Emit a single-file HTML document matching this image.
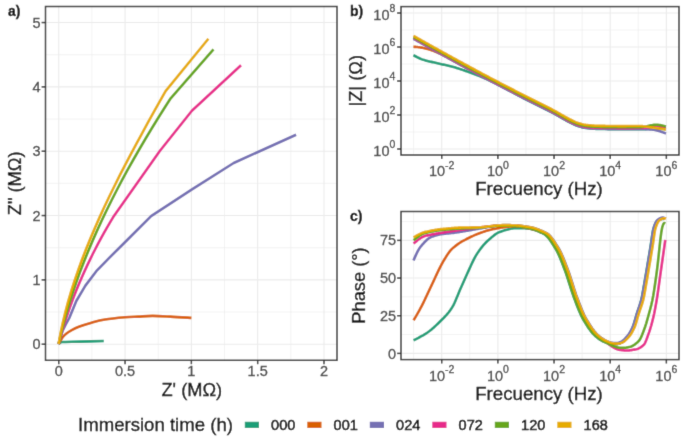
<!DOCTYPE html>
<html><head><meta charset="utf-8"><style>
html,body{margin:0;padding:0;background:#fff;}
body{width:685px;height:441px;overflow:hidden;}
svg{display:block;}
text{font-family:"Liberation Sans",sans-serif;}
.tk{stroke:#444444;stroke-width:0.3px;}
.tt{stroke:#000;stroke-width:0.3px;}
.tl{stroke:#000;stroke-width:0.5px;}
</style></head><body>
<svg width="685" height="441" viewBox="0 0 685 441">
<defs><filter id="bl" x="0" y="0" width="685" height="441" filterUnits="userSpaceOnUse"><feConvolveMatrix order="3" kernelMatrix="0.01134 0.08382 0.01134 0.08382 0.61935 0.08382 0.01134 0.08382 0.01134" divisor="1" edgeMode="duplicate" preserveAlpha="true"/></filter></defs>
<rect width="685" height="441" fill="#fff"/>
<g filter="url(#bl)">
<rect width="685" height="441" fill="#fff"/>
<line x1="91.91" y1="6.5" x2="91.91" y2="360.3" stroke="#EBEBEB" stroke-width="0.6"/>
<line x1="158.22" y1="6.5" x2="158.22" y2="360.3" stroke="#EBEBEB" stroke-width="0.6"/>
<line x1="224.53" y1="6.5" x2="224.53" y2="360.3" stroke="#EBEBEB" stroke-width="0.6"/>
<line x1="290.84" y1="6.5" x2="290.84" y2="360.3" stroke="#EBEBEB" stroke-width="0.6"/>
<line x1="45.5" y1="312.03" x2="337" y2="312.03" stroke="#EBEBEB" stroke-width="0.6"/>
<line x1="45.5" y1="247.70" x2="337" y2="247.70" stroke="#EBEBEB" stroke-width="0.6"/>
<line x1="45.5" y1="183.38" x2="337" y2="183.38" stroke="#EBEBEB" stroke-width="0.6"/>
<line x1="45.5" y1="119.04" x2="337" y2="119.04" stroke="#EBEBEB" stroke-width="0.6"/>
<line x1="45.5" y1="54.71" x2="337" y2="54.71" stroke="#EBEBEB" stroke-width="0.6"/>
<line x1="58.75" y1="6.5" x2="58.75" y2="360.3" stroke="#EBEBEB" stroke-width="1.1"/>
<line x1="125.06" y1="6.5" x2="125.06" y2="360.3" stroke="#EBEBEB" stroke-width="1.1"/>
<line x1="191.37" y1="6.5" x2="191.37" y2="360.3" stroke="#EBEBEB" stroke-width="1.1"/>
<line x1="257.68" y1="6.5" x2="257.68" y2="360.3" stroke="#EBEBEB" stroke-width="1.1"/>
<line x1="323.99" y1="6.5" x2="323.99" y2="360.3" stroke="#EBEBEB" stroke-width="1.1"/>
<line x1="45.5" y1="344.20" x2="337" y2="344.20" stroke="#EBEBEB" stroke-width="1.1"/>
<line x1="45.5" y1="279.87" x2="337" y2="279.87" stroke="#EBEBEB" stroke-width="1.1"/>
<line x1="45.5" y1="215.54" x2="337" y2="215.54" stroke="#EBEBEB" stroke-width="1.1"/>
<line x1="45.5" y1="151.21" x2="337" y2="151.21" stroke="#EBEBEB" stroke-width="1.1"/>
<line x1="45.5" y1="86.88" x2="337" y2="86.88" stroke="#EBEBEB" stroke-width="1.1"/>
<line x1="45.5" y1="22.55" x2="337" y2="22.55" stroke="#EBEBEB" stroke-width="1.1"/>
<line x1="413.64" y1="6.6" x2="413.64" y2="155" stroke="#EBEBEB" stroke-width="0.6"/>
<line x1="469.80" y1="6.6" x2="469.80" y2="155" stroke="#EBEBEB" stroke-width="0.6"/>
<line x1="525.96" y1="6.6" x2="525.96" y2="155" stroke="#EBEBEB" stroke-width="0.6"/>
<line x1="582.12" y1="6.6" x2="582.12" y2="155" stroke="#EBEBEB" stroke-width="0.6"/>
<line x1="638.28" y1="6.6" x2="638.28" y2="155" stroke="#EBEBEB" stroke-width="0.6"/>
<line x1="401" y1="132.00" x2="679" y2="132.00" stroke="#EBEBEB" stroke-width="0.6"/>
<line x1="401" y1="98.00" x2="679" y2="98.00" stroke="#EBEBEB" stroke-width="0.6"/>
<line x1="401" y1="64.00" x2="679" y2="64.00" stroke="#EBEBEB" stroke-width="0.6"/>
<line x1="401" y1="30.00" x2="679" y2="30.00" stroke="#EBEBEB" stroke-width="0.6"/>
<line x1="441.72" y1="6.6" x2="441.72" y2="155" stroke="#EBEBEB" stroke-width="1.1"/>
<line x1="497.88" y1="6.6" x2="497.88" y2="155" stroke="#EBEBEB" stroke-width="1.1"/>
<line x1="554.04" y1="6.6" x2="554.04" y2="155" stroke="#EBEBEB" stroke-width="1.1"/>
<line x1="610.20" y1="6.6" x2="610.20" y2="155" stroke="#EBEBEB" stroke-width="1.1"/>
<line x1="666.36" y1="6.6" x2="666.36" y2="155" stroke="#EBEBEB" stroke-width="1.1"/>
<line x1="401" y1="149.00" x2="679" y2="149.00" stroke="#EBEBEB" stroke-width="1.1"/>
<line x1="401" y1="115.00" x2="679" y2="115.00" stroke="#EBEBEB" stroke-width="1.1"/>
<line x1="401" y1="81.00" x2="679" y2="81.00" stroke="#EBEBEB" stroke-width="1.1"/>
<line x1="401" y1="47.00" x2="679" y2="47.00" stroke="#EBEBEB" stroke-width="1.1"/>
<line x1="401" y1="13.00" x2="679" y2="13.00" stroke="#EBEBEB" stroke-width="1.1"/>
<line x1="413.64" y1="211.5" x2="413.64" y2="359.6" stroke="#EBEBEB" stroke-width="0.6"/>
<line x1="469.80" y1="211.5" x2="469.80" y2="359.6" stroke="#EBEBEB" stroke-width="0.6"/>
<line x1="525.96" y1="211.5" x2="525.96" y2="359.6" stroke="#EBEBEB" stroke-width="0.6"/>
<line x1="582.12" y1="211.5" x2="582.12" y2="359.6" stroke="#EBEBEB" stroke-width="0.6"/>
<line x1="638.28" y1="211.5" x2="638.28" y2="359.6" stroke="#EBEBEB" stroke-width="0.6"/>
<line x1="401" y1="334.56" x2="679" y2="334.56" stroke="#EBEBEB" stroke-width="0.6"/>
<line x1="401" y1="296.89" x2="679" y2="296.89" stroke="#EBEBEB" stroke-width="0.6"/>
<line x1="401" y1="259.21" x2="679" y2="259.21" stroke="#EBEBEB" stroke-width="0.6"/>
<line x1="401" y1="221.54" x2="679" y2="221.54" stroke="#EBEBEB" stroke-width="0.6"/>
<line x1="441.72" y1="211.5" x2="441.72" y2="359.6" stroke="#EBEBEB" stroke-width="1.1"/>
<line x1="497.88" y1="211.5" x2="497.88" y2="359.6" stroke="#EBEBEB" stroke-width="1.1"/>
<line x1="554.04" y1="211.5" x2="554.04" y2="359.6" stroke="#EBEBEB" stroke-width="1.1"/>
<line x1="610.20" y1="211.5" x2="610.20" y2="359.6" stroke="#EBEBEB" stroke-width="1.1"/>
<line x1="666.36" y1="211.5" x2="666.36" y2="359.6" stroke="#EBEBEB" stroke-width="1.1"/>
<line x1="401" y1="353.40" x2="679" y2="353.40" stroke="#EBEBEB" stroke-width="1.1"/>
<line x1="401" y1="315.72" x2="679" y2="315.72" stroke="#EBEBEB" stroke-width="1.1"/>
<line x1="401" y1="278.05" x2="679" y2="278.05" stroke="#EBEBEB" stroke-width="1.1"/>
<line x1="401" y1="240.38" x2="679" y2="240.38" stroke="#EBEBEB" stroke-width="1.1"/>
<g>
<path d="M58.60,344.10 C58.92,343.85 59.92,342.95 60.50,342.60 C61.08,342.25 58.85,342.17 62.10,342.00 C65.35,341.83 73.05,341.77 80.00,341.60 C86.95,341.43 99.83,341.10 103.80,341.00" fill="none" stroke="#1B9E77" stroke-width="2.6" stroke-linejoin="round" stroke-linecap="butt"/>
<path d="M58.60,344.10 C58.92,343.52 59.78,341.78 60.50,340.60 C61.22,339.42 61.90,338.18 62.90,337.00 C63.90,335.82 65.17,334.57 66.50,333.50 C67.83,332.43 68.85,331.72 70.90,330.60 C72.95,329.48 75.37,328.12 78.80,326.80 C82.23,325.48 87.13,323.92 91.50,322.70 C95.87,321.48 99.42,320.40 105.00,319.50 C110.58,318.60 119.47,317.78 125.00,317.30 C130.53,316.82 133.60,316.83 138.20,316.60 C142.80,316.37 147.25,315.90 152.60,315.90 C157.95,315.90 163.83,316.27 170.30,316.60 C176.77,316.93 187.88,317.68 191.40,317.90" fill="none" stroke="#D95F02" stroke-width="2.6" stroke-linejoin="round" stroke-linecap="butt"/>
<path d="M58.60,344.10 L60.30,338.00 L62.50,331.00 L65.50,325.00 L69.30,318.00 L76.30,301.00 L85.40,285.60 L96.30,271.20 L109.00,258.10 L127.20,240.00 L151.10,216.20 L192.00,189.30 L233.70,163.00 L296.10,134.70" fill="none" stroke="#7570B3" stroke-width="2.6" stroke-linejoin="round" stroke-linecap="butt"/>
<path d="M58.60,344.10 L59.99,338.82 L61.46,333.53 L63.00,328.25 L64.62,322.97 L66.32,317.68 L68.09,312.40 L69.94,307.12 L71.87,301.83 L73.87,296.55 L75.95,291.27 L78.10,285.98 L80.33,280.70 L82.64,275.42 L85.02,270.13 L87.48,264.85 L90.02,259.57 L92.63,254.28 L95.32,249.00 L98.09,243.72 L100.93,238.43 L103.84,233.15 L106.84,227.87 L109.91,222.58 L113.05,217.30 L159.80,151.00 L191.90,110.80 L241.00,65.20" fill="none" stroke="#E7298A" stroke-width="2.6" stroke-linejoin="round" stroke-linecap="butt"/>
<path d="M58.60,344.10 L60.93,333.86 L63.51,323.62 L66.32,313.38 L69.37,303.13 L72.64,292.89 L76.13,282.65 L79.83,272.41 L83.75,262.17 L87.87,251.93 L92.19,241.68 L96.70,231.44 L101.40,221.20 L106.29,210.96 L111.36,200.72 L116.60,190.48 L122.01,180.23 L127.58,169.99 L133.30,159.75 L139.19,149.51 L145.21,139.27 L151.38,129.03 L157.69,118.78 L164.13,108.54 L170.69,98.30 L213.50,49.30" fill="none" stroke="#66A61E" stroke-width="2.6" stroke-linejoin="round" stroke-linecap="butt"/>
<path d="M58.60,344.10 L60.51,333.56 L62.73,323.02 L65.25,312.48 L68.06,301.93 L71.15,291.39 L74.50,280.85 L78.11,270.31 L81.95,259.77 L86.01,249.23 L90.29,238.68 L94.77,228.14 L99.44,217.60 L104.29,207.06 L109.30,196.52 L114.46,185.97 L119.75,175.43 L125.17,164.89 L130.71,154.35 L136.34,143.81 L142.07,133.27 L147.86,122.72 L153.72,112.18 L159.63,101.64 L165.58,91.10 L208.40,38.70" fill="none" stroke="#E6AB02" stroke-width="2.6" stroke-linejoin="round" stroke-linecap="butt"/>
</g>
<path d="M413.40,55.20 L414.40,55.73 L415.40,56.26 L416.41,56.78 L417.41,57.29 L418.41,57.78 L419.41,58.25 L420.42,58.69 L421.42,59.11 L422.42,59.49 L423.42,59.82 L424.43,60.12 L425.43,60.40 L426.43,60.67 L427.43,60.93 L428.44,61.18 L429.44,61.42 L430.44,61.66 L431.44,61.89 L432.45,62.11 L433.45,62.34 L434.45,62.56 L435.45,62.79 L436.45,63.01 L437.46,63.24 L438.46,63.47 L439.46,63.71 L440.46,63.94 L441.47,64.17 L442.47,64.40 L443.47,64.63 L444.47,64.85 L445.48,65.08 L446.48,65.31 L447.48,65.54 L448.48,65.77 L449.49,66.01 L450.49,66.26 L451.49,66.51 L452.49,66.77 L453.50,67.04 L454.50,67.32 L455.50,67.62 L456.50,67.92 L457.50,68.23 L458.51,68.55 L459.51,68.87 L460.51,69.20 L461.51,69.53 L462.52,69.87 L463.52,70.21 L464.52,70.55 L465.52,70.90 L466.53,71.27 L467.53,71.63 L468.53,72.01 L469.53,72.38 L470.54,72.76 L471.54,73.14 L472.54,73.51 L473.54,73.89 L474.55,74.26 L475.55,74.63 L476.55,75.01 L477.55,75.38 L478.55,75.76 L479.56,76.15 L480.56,76.54 L481.56,76.94 L482.56,77.36 L483.57,77.78 L484.57,78.21 L485.57,78.66 L486.57,79.11 L487.58,79.57 L488.58,80.03 L489.58,80.51 L490.58,80.98 L491.59,81.47 L492.59,81.95 L493.59,82.45 L494.59,82.95 L495.60,83.45 L496.60,83.96 L497.60,84.47 L498.60,84.98 L499.60,85.50 L500.61,86.02 L501.61,86.54 L502.61,87.07 L503.61,87.60 L504.62,88.13 L505.62,88.66 L506.62,89.20 L507.62,89.73 L508.63,90.27 L509.63,90.81 L510.63,91.34 L511.63,91.88 L512.64,92.42 L513.64,92.96 L514.64,93.49 L515.64,94.03 L516.65,94.56 L517.65,95.10 L518.65,95.63 L519.65,96.16 L520.65,96.69 L521.66,97.21 L522.66,97.73 L523.66,98.25 L524.66,98.77 L525.67,99.28 L526.67,99.79 L527.67,100.30 L528.67,100.80 L529.68,101.30 L530.68,101.80 L531.68,102.30 L532.68,102.80 L533.69,103.29 L534.69,103.79 L535.69,104.28 L536.69,104.78 L537.70,105.27 L538.70,105.77 L539.70,106.26 L540.70,106.76 L541.70,107.26 L542.71,107.75 L543.71,108.25 L544.71,108.76 L545.71,109.26 L546.72,109.77 L547.72,110.28 L548.72,110.79 L549.72,111.31 L550.73,111.83 L551.73,112.35 L552.73,112.88 L553.73,113.41 L554.74,113.95 L555.74,114.51 L556.74,115.08 L557.74,115.65 L558.75,116.24 L559.75,116.82 L560.75,117.39 L561.75,117.96 L562.75,118.52 L563.76,119.09 L564.76,119.66 L565.76,120.23 L566.76,120.79 L567.77,121.34 L568.77,121.88 L569.77,122.39 L570.77,122.88 L571.78,123.37 L572.78,123.86 L573.78,124.32 L574.78,124.77 L575.79,125.19 L576.79,125.58 L577.79,125.93 L578.79,126.25 L579.80,126.57 L580.80,126.87 L581.80,127.16 L582.80,127.42 L583.80,127.65 L584.81,127.84 L585.81,127.98 L586.81,128.08 L587.81,128.19 L588.82,128.29 L589.82,128.39 L590.82,128.48 L591.82,128.57 L592.83,128.65 L593.83,128.72 L594.83,128.78 L595.83,128.83 L596.84,128.87 L597.84,128.90 L598.84,128.92 L599.84,128.93 L600.85,128.95 L601.85,128.97 L602.85,128.99 L603.85,129.01 L604.85,129.03 L605.86,129.05 L606.86,129.07 L607.86,129.09 L608.86,129.11 L609.87,129.12 L610.87,129.14 L611.87,129.15 L612.87,129.17 L613.88,129.18 L614.88,129.19 L615.88,129.19 L616.88,129.20 L617.89,129.20 L618.89,129.20 L619.89,129.20 L620.89,129.20 L621.90,129.19 L622.90,129.19 L623.90,129.18 L624.90,129.18 L625.90,129.17 L626.91,129.17 L627.91,129.16 L628.91,129.16 L629.91,129.15 L630.92,129.14 L631.92,129.14 L632.92,129.13 L633.92,129.13 L634.93,129.12 L635.93,129.12 L636.93,129.11 L637.93,129.11 L638.94,129.10 L639.94,129.10 L640.94,129.10 L641.94,129.09 L642.95,129.09 L643.95,129.08 L644.95,129.08 L645.95,129.08 L646.95,129.07 L647.96,129.07 L648.96,129.06 L649.96,129.06 L650.96,129.06 L651.97,129.05 L652.97,129.05 L653.97,129.04 L654.97,129.04 L655.98,129.04 L656.98,129.03 L657.98,129.03 L658.98,129.02 L659.99,129.02 L660.99,129.02 L661.99,129.01 L662.99,129.01 L664.00,129.01 L665.00,129.00 L666.00,129.00" fill="none" stroke="#1B9E77" stroke-width="2.6" stroke-linejoin="round" stroke-linecap="butt"/>
<path d="M413.40,46.80 L414.40,46.83 L415.40,46.89 L416.41,46.97 L417.41,47.07 L418.41,47.19 L419.41,47.33 L420.42,47.48 L421.42,47.65 L422.42,47.83 L423.42,48.01 L424.43,48.21 L425.43,48.41 L426.43,48.62 L427.43,48.87 L428.44,49.15 L429.44,49.46 L430.44,49.80 L431.44,50.15 L432.45,50.52 L433.45,50.91 L434.45,51.31 L435.45,51.72 L436.45,52.13 L437.46,52.55 L438.46,52.97 L439.46,53.40 L440.46,53.84 L441.47,54.32 L442.47,54.82 L443.47,55.33 L444.47,55.86 L445.48,56.39 L446.48,56.92 L447.48,57.46 L448.48,58.00 L449.49,58.55 L450.49,59.11 L451.49,59.68 L452.49,60.25 L453.50,60.83 L454.50,61.40 L455.50,61.98 L456.50,62.55 L457.50,63.12 L458.51,63.68 L459.51,64.23 L460.51,64.78 L461.51,65.32 L462.52,65.86 L463.52,66.39 L464.52,66.92 L465.52,67.46 L466.53,67.99 L467.53,68.51 L468.53,69.04 L469.53,69.57 L470.54,70.09 L471.54,70.61 L472.54,71.14 L473.54,71.66 L474.55,72.18 L475.55,72.70 L476.55,73.22 L477.55,73.74 L478.55,74.26 L479.56,74.77 L480.56,75.29 L481.56,75.81 L482.56,76.33 L483.57,76.85 L484.57,77.38 L485.57,77.90 L486.57,78.42 L487.58,78.94 L488.58,79.46 L489.58,79.99 L490.58,80.51 L491.59,81.03 L492.59,81.55 L493.59,82.08 L494.59,82.60 L495.60,83.12 L496.60,83.64 L497.60,84.17 L498.60,84.69 L499.60,85.21 L500.61,85.73 L501.61,86.25 L502.61,86.77 L503.61,87.30 L504.62,87.82 L505.62,88.34 L506.62,88.86 L507.62,89.38 L508.63,89.90 L509.63,90.42 L510.63,90.94 L511.63,91.46 L512.64,91.97 L513.64,92.49 L514.64,93.01 L515.64,93.53 L516.65,94.05 L517.65,94.56 L518.65,95.08 L519.65,95.59 L520.65,96.11 L521.66,96.63 L522.66,97.14 L523.66,97.65 L524.66,98.17 L525.67,98.68 L526.67,99.19 L527.67,99.70 L528.67,100.21 L529.68,100.71 L530.68,101.21 L531.68,101.71 L532.68,102.21 L533.69,102.70 L534.69,103.20 L535.69,103.69 L536.69,104.19 L537.70,104.68 L538.70,105.18 L539.70,105.67 L540.70,106.17 L541.70,106.66 L542.71,107.16 L543.71,107.66 L544.71,108.16 L545.71,108.67 L546.72,109.17 L547.72,109.68 L548.72,110.19 L549.72,110.71 L550.73,111.23 L551.73,111.75 L552.73,112.28 L553.73,112.81 L554.74,113.35 L555.74,113.91 L556.74,114.48 L557.74,115.06 L558.75,115.64 L559.75,116.22 L560.75,116.79 L561.75,117.36 L562.75,117.92 L563.76,118.49 L564.76,119.06 L565.76,119.63 L566.76,120.19 L567.77,120.74 L568.77,121.28 L569.77,121.79 L570.77,122.28 L571.78,122.77 L572.78,123.26 L573.78,123.72 L574.78,124.17 L575.79,124.59 L576.79,124.98 L577.79,125.33 L578.79,125.65 L579.80,125.97 L580.80,126.27 L581.80,126.56 L582.80,126.82 L583.80,127.05 L584.81,127.24 L585.81,127.38 L586.81,127.48 L587.81,127.59 L588.82,127.69 L589.82,127.79 L590.82,127.88 L591.82,127.97 L592.83,128.05 L593.83,128.12 L594.83,128.18 L595.83,128.23 L596.84,128.27 L597.84,128.30 L598.84,128.32 L599.84,128.33 L600.85,128.35 L601.85,128.37 L602.85,128.39 L603.85,128.41 L604.85,128.43 L605.86,128.45 L606.86,128.47 L607.86,128.49 L608.86,128.51 L609.87,128.52 L610.87,128.54 L611.87,128.55 L612.87,128.57 L613.88,128.58 L614.88,128.59 L615.88,128.59 L616.88,128.60 L617.89,128.60 L618.89,128.60 L619.89,128.60 L620.89,128.60 L621.90,128.59 L622.90,128.59 L623.90,128.58 L624.90,128.58 L625.90,128.57 L626.91,128.56 L627.91,128.56 L628.91,128.55 L629.91,128.54 L630.92,128.54 L631.92,128.53 L632.92,128.53 L633.92,128.52 L634.93,128.52 L635.93,128.51 L636.93,128.51 L637.93,128.50 L638.94,128.50 L639.94,128.50 L640.94,128.50 L641.94,128.50 L642.95,128.50 L643.95,128.50 L644.95,128.49 L645.95,128.49 L646.95,128.49 L647.96,128.49 L648.96,128.49 L649.96,128.49 L650.96,128.49 L651.97,128.49 L652.97,128.49 L653.97,128.49 L654.97,128.49 L655.98,128.49 L656.98,128.49 L657.98,128.49 L658.98,128.49 L659.99,128.49 L660.99,128.49 L661.99,128.49 L662.99,128.50 L664.00,128.50 L665.00,128.50 L666.00,128.50" fill="none" stroke="#D95F02" stroke-width="2.6" stroke-linejoin="round" stroke-linecap="butt"/>
<path d="M413.40,38.80 L414.40,39.36 L415.40,39.92 L416.41,40.49 L417.41,41.05 L418.41,41.61 L419.41,42.17 L420.42,42.73 L421.42,43.29 L422.42,43.85 L423.42,44.41 L424.43,44.97 L425.43,45.53 L426.43,46.09 L427.43,46.64 L428.44,47.20 L429.44,47.76 L430.44,48.31 L431.44,48.87 L432.45,49.43 L433.45,49.98 L434.45,50.54 L435.45,51.09 L436.45,51.65 L437.46,52.20 L438.46,52.75 L439.46,53.31 L440.46,53.86 L441.47,54.41 L442.47,54.97 L443.47,55.52 L444.47,56.07 L445.48,56.62 L446.48,57.17 L447.48,57.72 L448.48,58.27 L449.49,58.82 L450.49,59.37 L451.49,59.92 L452.49,60.46 L453.50,61.01 L454.50,61.56 L455.50,62.11 L456.50,62.65 L457.50,63.20 L458.51,63.74 L459.51,64.29 L460.51,64.83 L461.51,65.38 L462.52,65.92 L463.52,66.46 L464.52,67.01 L465.52,67.55 L466.53,68.09 L467.53,68.63 L468.53,69.17 L469.53,69.72 L470.54,70.26 L471.54,70.80 L472.54,71.33 L473.54,71.87 L474.55,72.41 L475.55,72.95 L476.55,73.49 L477.55,74.02 L478.55,74.56 L479.56,75.10 L480.56,75.63 L481.56,76.17 L482.56,76.70 L483.57,77.24 L484.57,77.77 L485.57,78.30 L486.57,78.84 L487.58,79.37 L488.58,79.90 L489.58,80.43 L490.58,80.96 L491.59,81.48 L492.59,82.01 L493.59,82.54 L494.59,83.06 L495.60,83.59 L496.60,84.11 L497.60,84.63 L498.60,85.16 L499.60,85.68 L500.61,86.20 L501.61,86.72 L502.61,87.24 L503.61,87.76 L504.62,88.28 L505.62,88.79 L506.62,89.31 L507.62,89.83 L508.63,90.35 L509.63,90.86 L510.63,91.38 L511.63,91.89 L512.64,92.41 L513.64,92.92 L514.64,93.44 L515.64,93.95 L516.65,94.46 L517.65,94.98 L518.65,95.49 L519.65,96.00 L520.65,96.52 L521.66,97.03 L522.66,97.54 L523.66,98.06 L524.66,98.57 L525.67,99.08 L526.67,99.59 L527.67,100.10 L528.67,100.61 L529.68,101.11 L530.68,101.61 L531.68,102.11 L532.68,102.61 L533.69,103.10 L534.69,103.60 L535.69,104.09 L536.69,104.59 L537.70,105.08 L538.70,105.58 L539.70,106.07 L540.70,106.57 L541.70,107.06 L542.71,107.56 L543.71,108.06 L544.71,108.56 L545.71,109.07 L546.72,109.57 L547.72,110.08 L548.72,110.59 L549.72,111.11 L550.73,111.63 L551.73,112.15 L552.73,112.68 L553.73,113.21 L554.74,113.75 L555.74,114.31 L556.74,114.88 L557.74,115.46 L558.75,116.04 L559.75,116.62 L560.75,117.19 L561.75,117.76 L562.75,118.32 L563.76,118.89 L564.76,119.46 L565.76,120.03 L566.76,120.59 L567.77,121.14 L568.77,121.68 L569.77,122.19 L570.77,122.68 L571.78,123.17 L572.78,123.66 L573.78,124.12 L574.78,124.57 L575.79,124.99 L576.79,125.38 L577.79,125.73 L578.79,126.05 L579.80,126.37 L580.80,126.67 L581.80,126.96 L582.80,127.22 L583.80,127.45 L584.81,127.64 L585.81,127.78 L586.81,127.88 L587.81,127.99 L588.82,128.09 L589.82,128.19 L590.82,128.28 L591.82,128.37 L592.83,128.45 L593.83,128.52 L594.83,128.58 L595.83,128.63 L596.84,128.67 L597.84,128.70 L598.84,128.71 L599.84,128.73 L600.85,128.75 L601.85,128.77 L602.85,128.79 L603.85,128.80 L604.85,128.82 L605.86,128.84 L606.86,128.86 L607.86,128.87 L608.86,128.89 L609.87,128.90 L610.87,128.92 L611.87,128.93 L612.87,128.94 L613.88,128.96 L614.88,128.97 L615.88,128.98 L616.88,128.98 L617.89,128.99 L618.89,129.00 L619.89,129.00 L620.89,129.00 L621.90,129.00 L622.90,129.00 L623.90,129.00 L624.90,128.99 L625.90,128.99 L626.91,128.98 L627.91,128.98 L628.91,128.97 L629.91,128.96 L630.92,128.96 L631.92,128.95 L632.92,128.94 L633.92,128.93 L634.93,128.92 L635.93,128.92 L636.93,128.91 L637.93,128.91 L638.94,128.90 L639.94,128.90 L640.94,128.90 L641.94,128.92 L642.95,128.95 L643.95,128.98 L644.95,129.03 L645.95,129.08 L646.95,129.14 L647.96,129.21 L648.96,129.27 L649.96,129.35 L650.96,129.42 L651.97,129.50 L652.97,129.60 L653.97,129.74 L654.97,129.92 L655.98,130.15 L656.98,130.40 L657.98,130.69 L658.98,131.00 L659.99,131.33 L660.99,131.67 L661.99,132.03 L662.99,132.40 L664.00,132.77 L665.00,133.14 L666.00,133.50" fill="none" stroke="#7570B3" stroke-width="2.6" stroke-linejoin="round" stroke-linecap="butt"/>
<path d="M413.40,37.80 L414.40,38.36 L415.40,38.93 L416.41,39.49 L417.41,40.06 L418.41,40.62 L419.41,41.18 L420.42,41.74 L421.42,42.31 L422.42,42.87 L423.42,43.43 L424.43,43.99 L425.43,44.55 L426.43,45.11 L427.43,45.67 L428.44,46.23 L429.44,46.79 L430.44,47.35 L431.44,47.90 L432.45,48.46 L433.45,49.02 L434.45,49.58 L435.45,50.13 L436.45,50.69 L437.46,51.25 L438.46,51.80 L439.46,52.36 L440.46,52.91 L441.47,53.46 L442.47,54.02 L443.47,54.57 L444.47,55.12 L445.48,55.68 L446.48,56.23 L447.48,56.78 L448.48,57.33 L449.49,57.88 L450.49,58.43 L451.49,58.98 L452.49,59.53 L453.50,60.08 L454.50,60.63 L455.50,61.18 L456.50,61.72 L457.50,62.27 L458.51,62.82 L459.51,63.36 L460.51,63.91 L461.51,64.46 L462.52,65.00 L463.52,65.55 L464.52,66.09 L465.52,66.63 L466.53,67.18 L467.53,67.72 L468.53,68.26 L469.53,68.80 L470.54,69.34 L471.54,69.88 L472.54,70.42 L473.54,70.96 L474.55,71.50 L475.55,72.04 L476.55,72.58 L477.55,73.12 L478.55,73.66 L479.56,74.19 L480.56,74.73 L481.56,75.27 L482.56,75.80 L483.57,76.34 L484.57,76.87 L485.57,77.40 L486.57,77.94 L487.58,78.47 L488.58,79.00 L489.58,79.53 L490.58,80.06 L491.59,80.59 L492.59,81.11 L493.59,81.64 L494.59,82.17 L495.60,82.69 L496.60,83.21 L497.60,83.74 L498.60,84.26 L499.60,84.78 L500.61,85.30 L501.61,85.82 L502.61,86.34 L503.61,86.86 L504.62,87.38 L505.62,87.90 L506.62,88.41 L507.62,88.93 L508.63,89.45 L509.63,89.96 L510.63,90.48 L511.63,90.99 L512.64,91.51 L513.64,92.02 L514.64,92.54 L515.64,93.05 L516.65,93.57 L517.65,94.08 L518.65,94.59 L519.65,95.11 L520.65,95.62 L521.66,96.13 L522.66,96.64 L523.66,97.16 L524.66,97.67 L525.67,98.18 L526.67,98.69 L527.67,99.20 L528.67,99.71 L529.68,100.21 L530.68,100.71 L531.68,101.21 L532.68,101.71 L533.69,102.20 L534.69,102.70 L535.69,103.19 L536.69,103.69 L537.70,104.18 L538.70,104.68 L539.70,105.17 L540.70,105.67 L541.70,106.16 L542.71,106.66 L543.71,107.16 L544.71,107.66 L545.71,108.17 L546.72,108.67 L547.72,109.18 L548.72,109.69 L549.72,110.21 L550.73,110.73 L551.73,111.25 L552.73,111.78 L553.73,112.31 L554.74,112.85 L555.74,113.41 L556.74,113.98 L557.74,114.56 L558.75,115.14 L559.75,115.72 L560.75,116.29 L561.75,116.86 L562.75,117.42 L563.76,117.99 L564.76,118.56 L565.76,119.13 L566.76,119.69 L567.77,120.24 L568.77,120.78 L569.77,121.29 L570.77,121.78 L571.78,122.27 L572.78,122.76 L573.78,123.22 L574.78,123.67 L575.79,124.09 L576.79,124.48 L577.79,124.83 L578.79,125.15 L579.80,125.47 L580.80,125.77 L581.80,126.06 L582.80,126.32 L583.80,126.55 L584.81,126.74 L585.81,126.88 L586.81,126.98 L587.81,127.09 L588.82,127.19 L589.82,127.29 L590.82,127.38 L591.82,127.47 L592.83,127.55 L593.83,127.62 L594.83,127.68 L595.83,127.73 L596.84,127.77 L597.84,127.80 L598.84,127.81 L599.84,127.83 L600.85,127.85 L601.85,127.87 L602.85,127.88 L603.85,127.90 L604.85,127.92 L605.86,127.94 L606.86,127.95 L607.86,127.97 L608.86,127.98 L609.87,128.00 L610.87,128.01 L611.87,128.02 L612.87,128.04 L613.88,128.05 L614.88,128.06 L615.88,128.07 L616.88,128.08 L617.89,128.09 L618.89,128.09 L619.89,128.10 L620.89,128.10 L621.90,128.11 L622.90,128.11 L623.90,128.11 L624.90,128.11 L625.90,128.11 L626.91,128.11 L627.91,128.11 L628.91,128.11 L629.91,128.10 L630.92,128.10 L631.92,128.09 L632.92,128.08 L633.92,128.08 L634.93,128.07 L635.93,128.05 L636.93,128.04 L637.93,128.03 L638.94,128.02 L639.94,128.00 L640.94,127.97 L641.94,127.92 L642.95,127.84 L643.95,127.75 L644.95,127.65 L645.95,127.54 L646.95,127.43 L647.96,127.32 L648.96,127.22 L649.96,127.13 L650.96,127.05 L651.97,127.00 L652.97,126.97 L653.97,126.95 L654.97,126.95 L655.98,126.96 L656.98,126.98 L657.98,127.01 L658.98,127.05 L659.99,127.10 L660.99,127.16 L661.99,127.22 L662.99,127.29 L664.00,127.36 L665.00,127.43 L666.00,127.50" fill="none" stroke="#E7298A" stroke-width="2.6" stroke-linejoin="round" stroke-linecap="butt"/>
<path d="M413.40,37.00 L414.40,37.56 L415.40,38.13 L416.41,38.69 L417.41,39.26 L418.41,39.82 L419.41,40.38 L420.42,40.94 L421.42,41.51 L422.42,42.07 L423.42,42.63 L424.43,43.19 L425.43,43.75 L426.43,44.31 L427.43,44.87 L428.44,45.43 L429.44,45.99 L430.44,46.55 L431.44,47.10 L432.45,47.66 L433.45,48.22 L434.45,48.78 L435.45,49.33 L436.45,49.89 L437.46,50.45 L438.46,51.00 L439.46,51.56 L440.46,52.11 L441.47,52.66 L442.47,53.22 L443.47,53.77 L444.47,54.32 L445.48,54.88 L446.48,55.43 L447.48,55.98 L448.48,56.53 L449.49,57.08 L450.49,57.63 L451.49,58.18 L452.49,58.73 L453.50,59.28 L454.50,59.83 L455.50,60.38 L456.50,60.92 L457.50,61.47 L458.51,62.02 L459.51,62.56 L460.51,63.11 L461.51,63.66 L462.52,64.20 L463.52,64.75 L464.52,65.29 L465.52,65.83 L466.53,66.38 L467.53,66.92 L468.53,67.46 L469.53,68.00 L470.54,68.54 L471.54,69.08 L472.54,69.62 L473.54,70.16 L474.55,70.70 L475.55,71.24 L476.55,71.78 L477.55,72.32 L478.55,72.86 L479.56,73.39 L480.56,73.93 L481.56,74.47 L482.56,75.00 L483.57,75.54 L484.57,76.07 L485.57,76.60 L486.57,77.14 L487.58,77.67 L488.58,78.20 L489.58,78.73 L490.58,79.26 L491.59,79.79 L492.59,80.31 L493.59,80.84 L494.59,81.37 L495.60,81.89 L496.60,82.41 L497.60,82.94 L498.60,83.46 L499.60,83.98 L500.61,84.50 L501.61,85.02 L502.61,85.54 L503.61,86.06 L504.62,86.58 L505.62,87.10 L506.62,87.61 L507.62,88.13 L508.63,88.65 L509.63,89.16 L510.63,89.68 L511.63,90.19 L512.64,90.71 L513.64,91.22 L514.64,91.74 L515.64,92.25 L516.65,92.77 L517.65,93.28 L518.65,93.79 L519.65,94.31 L520.65,94.82 L521.66,95.33 L522.66,95.84 L523.66,96.36 L524.66,96.87 L525.67,97.38 L526.67,97.89 L527.67,98.40 L528.67,98.91 L529.68,99.41 L530.68,99.91 L531.68,100.41 L532.68,100.91 L533.69,101.40 L534.69,101.90 L535.69,102.39 L536.69,102.89 L537.70,103.38 L538.70,103.88 L539.70,104.37 L540.70,104.87 L541.70,105.36 L542.71,105.86 L543.71,106.36 L544.71,106.86 L545.71,107.37 L546.72,107.87 L547.72,108.38 L548.72,108.89 L549.72,109.41 L550.73,109.93 L551.73,110.45 L552.73,110.98 L553.73,111.51 L554.74,112.05 L555.74,112.61 L556.74,113.18 L557.74,113.76 L558.75,114.34 L559.75,114.92 L560.75,115.49 L561.75,116.06 L562.75,116.62 L563.76,117.19 L564.76,117.76 L565.76,118.33 L566.76,118.89 L567.77,119.44 L568.77,119.98 L569.77,120.49 L570.77,120.98 L571.78,121.47 L572.78,121.96 L573.78,122.42 L574.78,122.87 L575.79,123.29 L576.79,123.68 L577.79,124.03 L578.79,124.35 L579.80,124.67 L580.80,124.97 L581.80,125.26 L582.80,125.52 L583.80,125.75 L584.81,125.94 L585.81,126.08 L586.81,126.18 L587.81,126.29 L588.82,126.39 L589.82,126.49 L590.82,126.58 L591.82,126.67 L592.83,126.75 L593.83,126.82 L594.83,126.88 L595.83,126.93 L596.84,126.97 L597.84,127.00 L598.84,127.01 L599.84,127.03 L600.85,127.05 L601.85,127.07 L602.85,127.08 L603.85,127.10 L604.85,127.11 L605.86,127.13 L606.86,127.15 L607.86,127.16 L608.86,127.17 L609.87,127.19 L610.87,127.20 L611.87,127.22 L612.87,127.23 L613.88,127.24 L614.88,127.25 L615.88,127.26 L616.88,127.27 L617.89,127.28 L618.89,127.29 L619.89,127.30 L620.89,127.31 L621.90,127.31 L622.90,127.32 L623.90,127.32 L624.90,127.32 L625.90,127.32 L626.91,127.32 L627.91,127.32 L628.91,127.31 L629.91,127.31 L630.92,127.30 L631.92,127.30 L632.92,127.29 L633.92,127.28 L634.93,127.27 L635.93,127.26 L636.93,127.24 L637.93,127.23 L638.94,127.22 L639.94,127.20 L640.94,127.16 L641.94,127.08 L642.95,126.96 L643.95,126.81 L644.95,126.63 L645.95,126.44 L646.95,126.23 L647.96,126.01 L648.96,125.79 L649.96,125.58 L650.96,125.37 L651.97,125.19 L652.97,125.03 L653.97,124.90 L654.97,124.80 L655.98,124.76 L656.98,124.78 L657.98,124.85 L658.98,124.97 L659.99,125.13 L660.99,125.32 L661.99,125.54 L662.99,125.77 L664.00,126.02 L665.00,126.26 L666.00,126.50" fill="none" stroke="#66A61E" stroke-width="2.6" stroke-linejoin="round" stroke-linecap="butt"/>
<path d="M413.40,35.80 L414.40,36.36 L415.40,36.93 L416.41,37.49 L417.41,38.06 L418.41,38.62 L419.41,39.18 L420.42,39.74 L421.42,40.31 L422.42,40.87 L423.42,41.43 L424.43,41.99 L425.43,42.55 L426.43,43.11 L427.43,43.67 L428.44,44.23 L429.44,44.79 L430.44,45.35 L431.44,45.90 L432.45,46.46 L433.45,47.02 L434.45,47.58 L435.45,48.13 L436.45,48.69 L437.46,49.25 L438.46,49.80 L439.46,50.36 L440.46,50.91 L441.47,51.46 L442.47,52.02 L443.47,52.57 L444.47,53.12 L445.48,53.68 L446.48,54.23 L447.48,54.78 L448.48,55.33 L449.49,55.88 L450.49,56.43 L451.49,56.98 L452.49,57.53 L453.50,58.08 L454.50,58.63 L455.50,59.18 L456.50,59.72 L457.50,60.27 L458.51,60.82 L459.51,61.36 L460.51,61.91 L461.51,62.46 L462.52,63.00 L463.52,63.55 L464.52,64.09 L465.52,64.63 L466.53,65.18 L467.53,65.72 L468.53,66.26 L469.53,66.80 L470.54,67.34 L471.54,67.88 L472.54,68.42 L473.54,68.96 L474.55,69.50 L475.55,70.04 L476.55,70.58 L477.55,71.12 L478.55,71.66 L479.56,72.19 L480.56,72.73 L481.56,73.27 L482.56,73.80 L483.57,74.34 L484.57,74.87 L485.57,75.40 L486.57,75.94 L487.58,76.47 L488.58,77.00 L489.58,77.53 L490.58,78.06 L491.59,78.59 L492.59,79.11 L493.59,79.64 L494.59,80.17 L495.60,80.69 L496.60,81.21 L497.60,81.74 L498.60,82.26 L499.60,82.78 L500.61,83.30 L501.61,83.82 L502.61,84.34 L503.61,84.86 L504.62,85.38 L505.62,85.90 L506.62,86.41 L507.62,86.93 L508.63,87.45 L509.63,87.96 L510.63,88.48 L511.63,88.99 L512.64,89.51 L513.64,90.02 L514.64,90.54 L515.64,91.05 L516.65,91.57 L517.65,92.08 L518.65,92.59 L519.65,93.11 L520.65,93.62 L521.66,94.13 L522.66,94.64 L523.66,95.16 L524.66,95.67 L525.67,96.18 L526.67,96.69 L527.67,97.20 L528.67,97.71 L529.68,98.21 L530.68,98.71 L531.68,99.21 L532.68,99.71 L533.69,100.20 L534.69,100.70 L535.69,101.19 L536.69,101.69 L537.70,102.18 L538.70,102.68 L539.70,103.17 L540.70,103.67 L541.70,104.16 L542.71,104.66 L543.71,105.16 L544.71,105.66 L545.71,106.17 L546.72,106.67 L547.72,107.18 L548.72,107.69 L549.72,108.21 L550.73,108.73 L551.73,109.25 L552.73,109.78 L553.73,110.31 L554.74,110.85 L555.74,111.41 L556.74,111.98 L557.74,112.56 L558.75,113.14 L559.75,113.72 L560.75,114.29 L561.75,114.86 L562.75,115.42 L563.76,115.99 L564.76,116.56 L565.76,117.13 L566.76,117.69 L567.77,118.24 L568.77,118.78 L569.77,119.29 L570.77,119.78 L571.78,120.27 L572.78,120.76 L573.78,121.22 L574.78,121.67 L575.79,122.09 L576.79,122.48 L577.79,122.83 L578.79,123.15 L579.80,123.47 L580.80,123.77 L581.80,124.06 L582.80,124.32 L583.80,124.55 L584.81,124.74 L585.81,124.88 L586.81,124.98 L587.81,125.09 L588.82,125.19 L589.82,125.29 L590.82,125.38 L591.82,125.47 L592.83,125.55 L593.83,125.62 L594.83,125.68 L595.83,125.73 L596.84,125.77 L597.84,125.80 L598.84,125.81 L599.84,125.83 L600.85,125.85 L601.85,125.87 L602.85,125.88 L603.85,125.90 L604.85,125.92 L605.86,125.93 L606.86,125.95 L607.86,125.96 L608.86,125.98 L609.87,125.99 L610.87,126.00 L611.87,126.02 L612.87,126.03 L613.88,126.04 L614.88,126.05 L615.88,126.06 L616.88,126.07 L617.89,126.08 L618.89,126.09 L619.89,126.10 L620.89,126.10 L621.90,126.11 L622.90,126.10 L623.90,126.10 L624.90,126.09 L625.90,126.08 L626.91,126.07 L627.91,126.06 L628.91,126.05 L629.91,126.04 L630.92,126.03 L631.92,126.01 L632.92,126.00 L633.92,126.00 L634.93,125.99 L635.93,125.98 L636.93,125.98 L637.93,125.98 L638.94,125.99 L639.94,126.00 L640.94,126.03 L641.94,126.09 L642.95,126.17 L643.95,126.28 L644.95,126.41 L645.95,126.56 L646.95,126.71 L647.96,126.88 L648.96,127.04 L649.96,127.20 L650.96,127.35 L651.97,127.50 L652.97,127.63 L653.97,127.77 L654.97,127.91 L655.98,128.04 L656.98,128.18 L657.98,128.33 L658.98,128.47 L659.99,128.61 L660.99,128.76 L661.99,128.90 L662.99,129.05 L664.00,129.20 L665.00,129.35 L666.00,129.50" fill="none" stroke="#E6AB02" stroke-width="2.6" stroke-linejoin="round" stroke-linecap="butt"/>
<path d="M413.50,340.30 L414.50,339.83 L415.50,339.34 L416.51,338.84 L417.51,338.32 L418.51,337.80 L419.51,337.26 L420.51,336.72 L421.52,336.18 L422.52,335.62 L423.52,335.05 L424.52,334.45 L425.52,333.83 L426.53,333.19 L427.53,332.51 L428.53,331.79 L429.53,331.04 L430.53,330.25 L431.54,329.42 L432.54,328.57 L433.54,327.69 L434.54,326.78 L435.54,325.85 L436.55,324.91 L437.55,323.95 L438.55,322.98 L439.55,322.00 L440.55,321.02 L441.56,320.03 L442.56,319.04 L443.56,318.05 L444.56,317.02 L445.56,315.96 L446.57,314.86 L447.57,313.69 L448.57,312.47 L449.57,311.16 L450.57,309.77 L451.58,308.28 L452.58,306.67 L453.58,304.82 L454.58,302.74 L455.58,300.49 L456.59,298.11 L457.59,295.68 L458.59,293.24 L459.59,290.85 L460.59,288.57 L461.60,286.30 L462.60,284.03 L463.60,281.74 L464.60,279.46 L465.60,277.19 L466.61,274.95 L467.61,272.74 L468.61,270.58 L469.61,268.42 L470.61,266.23 L471.62,264.04 L472.62,261.90 L473.62,259.83 L474.62,257.87 L475.62,256.06 L476.63,254.41 L477.63,252.90 L478.63,251.44 L479.63,250.03 L480.63,248.67 L481.64,247.37 L482.64,246.12 L483.64,244.93 L484.64,243.80 L485.64,242.74 L486.65,241.74 L487.65,240.81 L488.65,239.93 L489.65,239.05 L490.65,238.17 L491.66,237.31 L492.66,236.46 L493.66,235.65 L494.66,234.88 L495.66,234.16 L496.67,233.50 L497.67,232.92 L498.67,232.42 L499.67,232.01 L500.67,231.66 L501.68,231.31 L502.68,230.96 L503.68,230.63 L504.68,230.31 L505.68,230.00 L506.69,229.70 L507.69,229.43 L508.69,229.17 L509.69,228.94 L510.69,228.73 L511.70,228.55 L512.70,228.40 L513.70,228.28 L514.70,228.20 L515.70,228.14 L516.71,228.11 L517.71,228.09 L518.71,228.08 L519.71,228.09 L520.71,228.12 L521.72,228.15 L522.72,228.20 L523.72,228.26 L524.72,228.32 L525.72,228.40 L526.73,228.48 L527.73,228.56 L528.73,228.65 L529.73,228.79 L530.73,228.96 L531.74,229.18 L532.74,229.43 L533.74,229.72 L534.74,230.04 L535.74,230.38 L536.75,230.76 L537.75,231.15 L538.75,231.56 L539.75,231.99 L540.75,232.44 L541.76,232.89 L542.76,233.35 L543.76,233.83 L544.76,234.44 L545.76,235.23 L546.77,236.18 L547.77,237.28 L548.77,238.50 L549.77,239.83 L550.77,241.25 L551.78,242.75 L552.78,244.30 L553.78,245.90 L554.78,247.51 L555.78,249.14 L556.79,250.89 L557.79,252.86 L558.79,255.01 L559.79,257.31 L560.79,259.74 L561.80,262.26 L562.80,264.86 L563.80,267.49 L564.80,270.14 L565.80,272.87 L566.81,275.79 L567.81,278.85 L568.81,282.00 L569.81,285.18 L570.81,288.34 L571.82,291.45 L572.82,294.43 L573.82,297.25 L574.82,299.91 L575.82,302.56 L576.83,305.18 L577.83,307.74 L578.83,310.22 L579.83,312.58 L580.83,314.82 L581.84,316.89 L582.84,318.77 L583.84,320.48 L584.84,322.16 L585.84,323.79 L586.85,325.39 L587.85,326.93 L588.85,328.42 L589.85,329.84 L590.85,331.18 L591.86,332.44 L592.86,333.61 L593.86,334.68 L594.86,335.64 L595.86,336.50 L596.87,337.32 L597.87,338.11 L598.87,338.86 L599.87,339.57 L600.87,340.21 L601.88,340.78 L602.88,341.26 L603.88,341.68 L604.88,342.09 L605.88,342.48 L606.89,342.84 L607.89,343.16 L608.89,343.43 L609.89,343.63 L610.89,343.80 L611.90,343.94 L612.90,344.06 L613.90,344.14 L614.90,344.19 L615.90,344.20 L616.91,344.14 L617.91,343.93 L618.91,343.61 L619.91,343.22 L620.91,342.81 L621.92,342.22 L622.92,341.42 L623.92,340.47 L624.92,339.44 L625.92,338.38 L626.93,337.28 L627.93,336.00 L628.93,334.54 L629.93,332.89 L630.93,331.04 L631.94,329.01 L632.94,326.68 L633.94,323.71 L634.94,320.31 L635.94,316.79 L636.95,313.46 L637.95,310.47 L638.95,307.61 L639.95,304.61 L640.95,301.16 L641.96,296.75 L642.96,291.27 L643.96,285.46 L644.96,279.76 L645.96,273.91 L646.97,267.96 L647.97,261.98 L648.97,256.03 L649.97,250.04 L650.97,243.82 L651.98,236.57 L652.98,230.49 L653.98,227.08 L654.98,224.42 L655.98,222.43 L656.99,221.15 L657.99,220.44 L658.99,219.82 L659.99,219.31 L660.99,218.95 L662.00,218.78 L663.00,218.85 L664.00,219.20" fill="none" stroke="#1B9E77" stroke-width="2.6" stroke-linejoin="round" stroke-linecap="butt"/>
<path d="M413.50,320.30 L414.50,318.74 L415.50,317.12 L416.50,315.45 L417.51,313.71 L418.51,311.93 L419.51,310.10 L420.51,308.24 L421.51,306.32 L422.51,304.35 L423.52,302.32 L424.52,300.25 L425.52,298.14 L426.52,296.01 L427.52,293.87 L428.52,291.72 L429.53,289.58 L430.53,287.45 L431.53,285.36 L432.53,283.26 L433.53,281.13 L434.53,278.98 L435.54,276.81 L436.54,274.65 L437.54,272.52 L438.54,270.42 L439.54,268.37 L440.54,266.39 L441.54,264.49 L442.55,262.69 L443.55,260.96 L444.55,259.25 L445.55,257.57 L446.55,255.95 L447.55,254.40 L448.56,252.94 L449.56,251.60 L450.56,250.38 L451.56,249.31 L452.56,248.39 L453.56,247.52 L454.57,246.69 L455.57,245.88 L456.57,245.11 L457.57,244.37 L458.57,243.67 L459.57,242.99 L460.57,242.34 L461.58,241.73 L462.58,241.14 L463.58,240.58 L464.58,240.05 L465.58,239.53 L466.58,239.02 L467.59,238.50 L468.59,238.00 L469.59,237.50 L470.59,237.01 L471.59,236.53 L472.59,236.06 L473.60,235.60 L474.60,235.16 L475.60,234.74 L476.60,234.33 L477.60,233.95 L478.60,233.58 L479.61,233.21 L480.61,232.84 L481.61,232.47 L482.61,232.11 L483.61,231.76 L484.61,231.41 L485.61,231.08 L486.62,230.76 L487.62,230.46 L488.62,230.18 L489.62,229.92 L490.62,229.69 L491.62,229.48 L492.63,229.27 L493.63,229.07 L494.63,228.87 L495.63,228.68 L496.63,228.48 L497.63,228.29 L498.64,228.10 L499.64,227.91 L500.64,227.74 L501.64,227.56 L502.64,227.40 L503.64,227.24 L504.65,227.10 L505.65,226.96 L506.65,226.83 L507.65,226.72 L508.65,226.61 L509.65,226.52 L510.65,226.45 L511.66,226.39 L512.66,226.34 L513.66,226.31 L514.66,226.30 L515.66,226.32 L516.66,226.37 L517.67,226.45 L518.67,226.55 L519.67,226.68 L520.67,226.84 L521.67,227.00 L522.67,227.18 L523.68,227.37 L524.68,227.56 L525.68,227.75 L526.68,227.93 L527.68,228.11 L528.68,228.28 L529.68,228.48 L530.69,228.70 L531.69,228.94 L532.69,229.20 L533.69,229.49 L534.69,229.79 L535.69,230.12 L536.70,230.46 L537.70,230.82 L538.70,231.20 L539.70,231.59 L540.70,231.99 L541.70,232.41 L542.71,232.85 L543.71,233.29 L544.71,233.75 L545.71,234.36 L546.71,235.15 L547.71,236.11 L548.72,237.21 L549.72,238.44 L550.72,239.77 L551.72,241.20 L552.72,242.71 L553.72,244.27 L554.72,245.86 L555.73,247.48 L556.73,249.11 L557.73,250.87 L558.73,252.85 L559.73,255.00 L560.73,257.31 L561.74,259.74 L562.74,262.27 L563.74,264.87 L564.74,267.50 L565.74,270.15 L566.74,272.89 L567.75,275.81 L568.75,278.87 L569.75,282.02 L570.75,285.20 L571.75,288.36 L572.75,291.46 L573.75,294.44 L574.76,297.25 L575.76,299.91 L576.76,302.56 L577.76,305.17 L578.76,307.73 L579.76,310.20 L580.77,312.56 L581.77,314.79 L582.77,316.85 L583.77,318.73 L584.77,320.44 L585.77,322.11 L586.78,323.74 L587.78,325.34 L588.78,326.88 L589.78,328.36 L590.78,329.77 L591.78,331.11 L592.79,332.37 L593.79,333.54 L594.79,334.61 L595.79,335.57 L596.79,336.43 L597.79,337.25 L598.79,338.05 L599.80,338.81 L600.80,339.52 L601.80,340.16 L602.80,340.72 L603.80,341.18 L604.80,341.57 L605.81,341.94 L606.81,342.29 L607.81,342.62 L608.81,342.91 L609.81,343.15 L610.81,343.34 L611.82,343.49 L612.82,343.63 L613.82,343.74 L614.82,343.83 L615.82,343.88 L616.82,343.90 L617.83,343.84 L618.83,343.63 L619.83,343.30 L620.83,342.91 L621.83,342.50 L622.83,341.91 L623.83,341.11 L624.84,340.16 L625.84,339.12 L626.84,338.07 L627.84,336.96 L628.84,335.68 L629.84,334.21 L630.85,332.56 L631.85,330.72 L632.85,328.68 L633.85,326.35 L634.85,323.37 L635.85,319.97 L636.86,316.45 L637.86,313.12 L638.86,310.14 L639.86,307.29 L640.86,304.27 L641.86,300.82 L642.86,296.40 L643.87,290.92 L644.87,285.11 L645.87,279.42 L646.87,273.57 L647.87,267.61 L648.87,261.64 L649.88,255.69 L650.88,249.70 L651.88,243.48 L652.88,236.24 L653.88,230.17 L654.88,226.77 L655.89,224.11 L656.89,222.13 L657.89,220.85 L658.89,220.14 L659.89,219.52 L660.89,219.01 L661.90,218.64 L662.90,218.48 L663.90,218.55 L664.90,218.90" fill="none" stroke="#D95F02" stroke-width="2.6" stroke-linejoin="round" stroke-linecap="butt"/>
<path d="M413.50,260.40 L414.50,258.13 L415.51,255.89 L416.51,253.73 L417.51,251.69 L418.52,249.82 L419.52,248.16 L420.53,246.75 L421.53,245.58 L422.53,244.44 L423.54,243.32 L424.54,242.23 L425.54,241.19 L426.55,240.22 L427.55,239.33 L428.55,238.53 L429.56,237.84 L430.56,237.27 L431.56,236.85 L432.57,236.51 L433.57,236.19 L434.58,235.87 L435.58,235.57 L436.58,235.28 L437.59,235.01 L438.59,234.76 L439.59,234.53 L440.60,234.32 L441.60,234.15 L442.60,234.00 L443.61,233.87 L444.61,233.76 L445.62,233.65 L446.62,233.55 L447.62,233.45 L448.63,233.35 L449.63,233.26 L450.63,233.16 L451.64,233.06 L452.64,232.95 L453.64,232.84 L454.65,232.71 L455.65,232.58 L456.65,232.43 L457.66,232.28 L458.66,232.12 L459.67,231.97 L460.67,231.81 L461.67,231.64 L462.68,231.48 L463.68,231.31 L464.68,231.14 L465.69,230.97 L466.69,230.80 L467.69,230.62 L468.70,230.45 L469.70,230.27 L470.71,230.10 L471.71,229.92 L472.71,229.75 L473.72,229.57 L474.72,229.40 L475.72,229.23 L476.73,229.05 L477.73,228.88 L478.73,228.71 L479.74,228.54 L480.74,228.37 L481.74,228.20 L482.75,228.02 L483.75,227.83 L484.76,227.64 L485.76,227.45 L486.76,227.26 L487.77,227.07 L488.77,226.89 L489.77,226.70 L490.78,226.52 L491.78,226.35 L492.78,226.18 L493.79,226.02 L494.79,225.88 L495.80,225.74 L496.80,225.62 L497.80,225.50 L498.81,225.41 L499.81,225.33 L500.81,225.26 L501.82,225.21 L502.82,225.17 L503.82,225.14 L504.83,225.12 L505.83,225.12 L506.83,225.12 L507.84,225.13 L508.84,225.15 L509.85,225.17 L510.85,225.20 L511.85,225.23 L512.86,225.27 L513.86,225.31 L514.86,225.35 L515.87,225.40 L516.87,225.45 L517.87,225.52 L518.88,225.61 L519.88,225.72 L520.89,225.84 L521.89,225.97 L522.89,226.11 L523.90,226.25 L524.90,226.41 L525.90,226.56 L526.91,226.72 L527.91,226.87 L528.91,227.03 L529.92,227.18 L530.92,227.36 L531.92,227.57 L532.93,227.82 L533.93,228.08 L534.94,228.38 L535.94,228.69 L536.94,229.04 L537.95,229.40 L538.95,229.78 L539.95,230.18 L540.96,230.59 L541.96,231.02 L542.96,231.46 L543.97,231.92 L544.97,232.38 L545.98,232.85 L546.98,233.35 L547.98,234.01 L548.99,234.85 L549.99,235.84 L550.99,236.96 L552.00,238.21 L553.00,239.56 L554.00,241.00 L555.01,242.51 L556.01,244.08 L557.01,245.68 L558.02,247.30 L559.02,248.93 L560.03,250.74 L561.03,252.76 L562.03,254.95 L563.04,257.29 L564.04,259.75 L565.04,262.30 L566.05,264.91 L567.05,267.56 L568.05,270.21 L569.06,273.00 L570.06,275.96 L571.07,279.05 L572.07,282.22 L573.07,285.40 L574.08,288.56 L575.08,291.64 L576.08,294.59 L577.09,297.36 L578.09,300.03 L579.09,302.67 L580.10,305.28 L581.10,307.83 L582.10,310.28 L583.11,312.61 L584.11,314.81 L585.12,316.83 L586.12,318.66 L587.12,320.36 L588.13,322.03 L589.13,323.66 L590.13,325.24 L591.14,326.77 L592.14,328.24 L593.14,329.64 L594.15,330.97 L595.15,332.20 L596.16,333.34 L597.16,334.38 L598.16,335.31 L599.17,336.15 L600.17,336.94 L601.17,337.70 L602.18,338.42 L603.18,339.09 L604.18,339.72 L605.19,340.29 L606.19,340.80 L607.19,341.28 L608.20,341.75 L609.20,342.15 L610.21,342.42 L611.21,342.61 L612.21,342.77 L613.22,342.89 L614.22,342.97 L615.22,343.01 L616.23,343.01 L617.23,342.95 L618.23,342.74 L619.24,342.43 L620.24,342.05 L621.25,341.64 L622.25,341.07 L623.25,340.28 L624.26,339.34 L625.26,338.31 L626.26,337.25 L627.27,336.15 L628.27,334.88 L629.27,333.42 L630.28,331.78 L631.28,329.95 L632.28,327.92 L633.29,325.62 L634.29,322.67 L635.30,319.27 L636.30,315.75 L637.30,312.39 L638.31,309.39 L639.31,306.53 L640.31,303.53 L641.32,300.09 L642.32,295.72 L643.32,290.27 L644.33,284.44 L645.33,278.74 L646.34,272.88 L647.34,266.92 L648.34,260.93 L649.35,254.97 L650.35,248.97 L651.35,242.76 L652.36,235.51 L653.36,229.37 L654.36,225.93 L655.37,223.25 L656.37,221.25 L657.37,219.96 L658.38,219.25 L659.38,218.63 L660.39,218.11 L661.39,217.75 L662.39,217.58 L663.40,217.65 L664.40,218.00" fill="none" stroke="#7570B3" stroke-width="2.6" stroke-linejoin="round" stroke-linecap="butt"/>
<path d="M413.50,243.60 L414.50,242.78 L415.51,241.95 L416.51,241.13 L417.51,240.32 L418.52,239.54 L419.52,238.81 L420.52,238.12 L421.53,237.50 L422.53,236.96 L423.53,236.50 L424.54,236.13 L425.54,235.86 L426.54,235.61 L427.54,235.38 L428.55,235.15 L429.55,234.93 L430.55,234.72 L431.56,234.51 L432.56,234.31 L433.56,234.12 L434.57,233.94 L435.57,233.76 L436.57,233.58 L437.58,233.41 L438.58,233.25 L439.58,233.08 L440.59,232.92 L441.59,232.76 L442.59,232.61 L443.60,232.45 L444.60,232.29 L445.60,232.14 L446.61,231.98 L447.61,231.82 L448.61,231.67 L449.61,231.52 L450.62,231.36 L451.62,231.21 L452.62,231.06 L453.63,230.91 L454.63,230.76 L455.63,230.62 L456.64,230.47 L457.64,230.33 L458.64,230.19 L459.65,230.05 L460.65,229.91 L461.65,229.78 L462.66,229.64 L463.66,229.51 L464.66,229.37 L465.67,229.24 L466.67,229.11 L467.67,228.98 L468.68,228.85 L469.68,228.72 L470.68,228.59 L471.68,228.46 L472.69,228.34 L473.69,228.21 L474.69,228.09 L475.70,227.97 L476.70,227.85 L477.70,227.72 L478.71,227.61 L479.71,227.49 L480.71,227.37 L481.72,227.25 L482.72,227.12 L483.72,227.00 L484.73,226.88 L485.73,226.75 L486.73,226.63 L487.74,226.51 L488.74,226.39 L489.74,226.28 L490.75,226.17 L491.75,226.07 L492.75,225.97 L493.75,225.87 L494.76,225.79 L495.76,225.71 L496.76,225.63 L497.77,225.57 L498.77,225.52 L499.77,225.48 L500.78,225.45 L501.78,225.42 L502.78,225.40 L503.79,225.40 L504.79,225.39 L505.79,225.40 L506.80,225.41 L507.80,225.42 L508.80,225.44 L509.81,225.47 L510.81,225.49 L511.81,225.52 L512.82,225.55 L513.82,225.58 L514.82,225.62 L515.83,225.68 L516.83,225.75 L517.83,225.85 L518.83,225.96 L519.84,226.09 L520.84,226.22 L521.84,226.37 L522.85,226.52 L523.85,226.68 L524.85,226.84 L525.86,227.00 L526.86,227.16 L527.86,227.31 L528.87,227.48 L529.87,227.67 L530.87,227.90 L531.88,228.16 L532.88,228.44 L533.88,228.75 L534.89,229.08 L535.89,229.43 L536.89,229.80 L537.90,230.19 L538.90,230.60 L539.90,231.02 L540.90,231.46 L541.91,231.91 L542.91,232.37 L543.91,232.83 L544.92,233.31 L545.92,233.89 L546.92,234.64 L547.93,235.56 L548.93,236.63 L549.93,237.82 L550.94,239.13 L551.94,240.53 L552.94,242.01 L553.95,243.55 L554.95,245.13 L555.95,246.74 L556.96,248.37 L557.96,250.07 L558.96,252.00 L559.97,254.11 L560.97,256.38 L561.97,258.79 L562.97,261.30 L563.98,263.88 L564.98,266.52 L565.98,269.17 L566.99,271.87 L567.99,274.75 L568.99,277.79 L570.00,280.92 L571.00,284.11 L572.00,287.28 L573.01,290.41 L574.01,293.42 L575.01,296.28 L576.02,298.97 L577.02,301.63 L578.02,304.25 L579.03,306.83 L580.03,309.33 L581.03,311.72 L582.04,313.98 L583.04,316.09 L584.04,318.02 L585.05,319.75 L586.05,321.44 L587.05,323.09 L588.05,324.70 L589.06,326.25 L590.06,327.76 L591.06,329.19 L592.07,330.55 L593.07,331.83 L594.07,333.02 L595.08,334.10 L596.08,335.08 L597.08,335.95 L598.09,336.72 L599.09,337.42 L600.09,338.08 L601.10,338.72 L602.10,339.34 L603.10,339.98 L604.11,340.65 L605.11,341.37 L606.11,342.13 L607.12,342.91 L608.12,343.70 L609.12,344.48 L610.12,345.23 L611.13,345.93 L612.13,346.58 L613.13,347.21 L614.14,347.82 L615.14,348.38 L616.14,348.86 L617.15,349.21 L618.15,349.44 L619.15,349.65 L620.16,349.85 L621.16,350.02 L622.16,350.17 L623.17,350.29 L624.17,350.39 L625.17,350.46 L626.18,350.50 L627.18,350.50 L628.18,350.45 L629.19,350.37 L630.19,350.26 L631.19,350.12 L632.19,349.97 L633.20,349.80 L634.20,349.63 L635.20,349.46 L636.21,349.30 L637.21,349.07 L638.21,348.70 L639.22,348.20 L640.22,347.60 L641.22,346.91 L642.23,346.14 L643.23,345.31 L644.23,344.30 L645.24,342.54 L646.24,340.17 L647.24,337.46 L648.25,334.66 L649.25,331.88 L650.25,328.75 L651.26,325.30 L652.26,321.58 L653.26,317.64 L654.26,313.16 L655.27,308.08 L656.27,302.51 L657.27,296.44 L658.28,289.66 L659.28,282.43 L660.28,275.10 L661.29,267.99 L662.29,260.98 L663.29,253.96 L664.30,246.93 L665.30,239.90" fill="none" stroke="#E7298A" stroke-width="2.6" stroke-linejoin="round" stroke-linecap="butt"/>
<path d="M413.50,240.20 L414.50,239.42 L415.51,238.63 L416.51,237.85 L417.51,237.09 L418.52,236.35 L419.52,235.65 L420.52,235.01 L421.53,234.42 L422.53,233.90 L423.53,233.47 L424.54,233.12 L425.54,232.87 L426.54,232.63 L427.54,232.40 L428.55,232.18 L429.55,231.96 L430.55,231.75 L431.56,231.55 L432.56,231.36 L433.56,231.17 L434.57,231.00 L435.57,230.83 L436.57,230.67 L437.58,230.52 L438.58,230.39 L439.58,230.26 L440.59,230.14 L441.59,230.04 L442.59,229.94 L443.60,229.85 L444.60,229.75 L445.60,229.66 L446.61,229.57 L447.61,229.47 L448.61,229.38 L449.61,229.29 L450.62,229.20 L451.62,229.11 L452.62,229.02 L453.63,228.94 L454.63,228.86 L455.63,228.79 L456.64,228.71 L457.64,228.64 L458.64,228.58 L459.65,228.52 L460.65,228.47 L461.65,228.42 L462.66,228.37 L463.66,228.34 L464.66,228.30 L465.67,228.27 L466.67,228.24 L467.67,228.22 L468.68,228.19 L469.68,228.16 L470.68,228.14 L471.68,228.11 L472.69,228.08 L473.69,228.04 L474.69,228.00 L475.70,227.96 L476.70,227.91 L477.70,227.86 L478.71,227.79 L479.71,227.72 L480.71,227.63 L481.72,227.53 L482.72,227.43 L483.72,227.31 L484.73,227.19 L485.73,227.06 L486.73,226.93 L487.74,226.80 L488.74,226.67 L489.74,226.55 L490.75,226.43 L491.75,226.31 L492.75,226.20 L493.75,226.10 L494.76,226.01 L495.76,225.94 L496.76,225.87 L497.77,225.82 L498.77,225.78 L499.77,225.75 L500.78,225.72 L501.78,225.71 L502.78,225.70 L503.79,225.70 L504.79,225.70 L505.79,225.71 L506.80,225.73 L507.80,225.74 L508.80,225.77 L509.81,225.79 L510.81,225.82 L511.81,225.85 L512.82,225.88 L513.82,225.92 L514.82,225.98 L515.83,226.05 L516.83,226.15 L517.83,226.26 L518.83,226.39 L519.84,226.52 L520.84,226.67 L521.84,226.82 L522.85,226.98 L523.85,227.14 L524.85,227.30 L525.86,227.46 L526.86,227.61 L527.86,227.78 L528.87,227.97 L529.87,228.20 L530.87,228.46 L531.88,228.74 L532.88,229.05 L533.88,229.38 L534.89,229.73 L535.89,230.10 L536.89,230.49 L537.90,230.90 L538.90,231.32 L539.90,231.76 L540.90,232.20 L541.91,232.66 L542.91,233.13 L543.91,233.61 L544.92,234.18 L545.92,234.94 L546.92,235.86 L547.93,236.92 L548.93,238.12 L549.93,239.42 L550.94,240.82 L551.94,242.30 L552.94,243.84 L553.95,245.43 L554.95,247.04 L555.95,248.66 L556.96,250.37 L557.96,252.29 L558.96,254.40 L559.97,256.68 L560.97,259.08 L561.97,261.59 L562.97,264.18 L563.98,266.81 L564.98,269.46 L565.98,272.16 L566.99,275.04 L567.99,278.08 L568.99,281.21 L570.00,284.39 L571.00,287.57 L572.00,290.70 L573.01,293.71 L574.01,296.57 L575.01,299.26 L576.02,301.92 L577.02,304.55 L578.02,307.12 L579.03,309.62 L580.03,312.01 L581.03,314.28 L582.04,316.39 L583.04,318.31 L584.04,320.05 L585.05,321.73 L586.05,323.38 L587.05,324.99 L588.05,326.55 L589.06,328.05 L590.06,329.49 L591.06,330.85 L592.07,332.13 L593.07,333.32 L594.07,334.40 L595.08,335.38 L596.08,336.25 L597.08,337.04 L598.09,337.80 L599.09,338.52 L600.09,339.19 L601.10,339.84 L602.10,340.45 L603.10,341.03 L604.11,341.58 L605.11,342.12 L606.11,342.66 L607.12,343.19 L608.12,343.71 L609.12,344.21 L610.12,344.68 L611.13,345.13 L612.13,345.55 L613.13,345.97 L614.14,346.38 L615.14,346.77 L616.14,347.09 L617.15,347.34 L618.15,347.49 L619.15,347.61 L620.16,347.70 L621.16,347.76 L622.16,347.80 L623.17,347.81 L624.17,347.80 L625.17,347.72 L626.18,347.59 L627.18,347.41 L628.18,347.20 L629.19,346.98 L630.19,346.76 L631.19,346.46 L632.19,346.03 L633.20,345.49 L634.20,344.85 L635.20,344.13 L636.21,343.33 L637.21,342.47 L638.21,341.56 L639.22,340.53 L640.22,338.97 L641.22,336.93 L642.23,334.54 L643.23,331.93 L644.23,329.21 L645.24,326.46 L646.24,323.34 L647.24,319.87 L648.25,316.27 L649.25,312.69 L650.25,309.01 L651.26,305.06 L652.26,300.67 L653.26,295.49 L654.26,289.34 L655.27,282.52 L656.27,275.31 L657.27,267.92 L658.28,259.18 L659.28,249.55 L660.28,240.22 L661.29,232.36 L662.29,227.07 L663.29,224.08 L664.30,223.02 L665.30,223.70" fill="none" stroke="#66A61E" stroke-width="2.6" stroke-linejoin="round" stroke-linecap="butt"/>
<path d="M413.50,237.40 L414.50,236.83 L415.50,236.26 L416.51,235.69 L417.51,235.13 L418.51,234.60 L419.51,234.09 L420.52,233.61 L421.52,233.16 L422.52,232.76 L423.52,232.41 L424.53,232.12 L425.53,231.88 L426.53,231.65 L427.53,231.42 L428.54,231.20 L429.54,230.98 L430.54,230.77 L431.54,230.57 L432.55,230.38 L433.55,230.19 L434.55,230.01 L435.55,229.84 L436.55,229.68 L437.56,229.53 L438.56,229.39 L439.56,229.26 L440.56,229.15 L441.57,229.04 L442.57,228.95 L443.57,228.85 L444.57,228.76 L445.58,228.67 L446.58,228.58 L447.58,228.49 L448.58,228.40 L449.59,228.31 L450.59,228.22 L451.59,228.14 L452.59,228.06 L453.60,227.98 L454.60,227.91 L455.60,227.84 L456.60,227.78 L457.60,227.72 L458.61,227.67 L459.61,227.62 L460.61,227.58 L461.61,227.54 L462.62,227.51 L463.62,227.49 L464.62,227.47 L465.62,227.46 L466.63,227.45 L467.63,227.44 L468.63,227.44 L469.63,227.43 L470.64,227.43 L471.64,227.42 L472.64,227.42 L473.64,227.41 L474.65,227.40 L475.65,227.38 L476.65,227.36 L477.65,227.33 L478.65,227.30 L479.66,227.26 L480.66,227.21 L481.66,227.15 L482.66,227.07 L483.67,226.98 L484.67,226.88 L485.67,226.77 L486.67,226.65 L487.68,226.52 L488.68,226.39 L489.68,226.26 L490.68,226.12 L491.69,225.99 L492.69,225.87 L493.69,225.74 L494.69,225.63 L495.70,225.53 L496.70,225.43 L497.70,225.35 L498.70,225.29 L499.70,225.24 L500.71,225.19 L501.71,225.16 L502.71,225.13 L503.71,225.11 L504.72,225.10 L505.72,225.10 L506.72,225.10 L507.72,225.11 L508.73,225.12 L509.73,225.14 L510.73,225.16 L511.73,225.19 L512.74,225.21 L513.74,225.24 L514.74,225.28 L515.74,225.31 L516.75,225.36 L517.75,225.43 L518.75,225.52 L519.75,225.63 L520.75,225.75 L521.76,225.88 L522.76,226.03 L523.76,226.18 L524.76,226.34 L525.77,226.50 L526.77,226.66 L527.77,226.81 L528.77,226.97 L529.78,227.12 L530.78,227.31 L531.78,227.53 L532.78,227.78 L533.79,228.06 L534.79,228.35 L535.79,228.68 L536.79,229.02 L537.80,229.39 L538.80,229.77 L539.80,230.18 L540.80,230.59 L541.80,231.03 L542.81,231.47 L543.81,231.93 L544.81,232.39 L545.81,232.86 L546.82,233.39 L547.82,234.09 L548.82,234.96 L549.82,235.99 L550.83,237.14 L551.83,238.41 L552.83,239.79 L553.83,241.24 L554.84,242.76 L555.84,244.34 L556.84,245.94 L557.84,247.56 L558.85,249.22 L559.85,251.07 L560.85,253.13 L561.85,255.35 L562.85,257.72 L563.86,260.19 L564.86,262.76 L565.86,265.37 L566.86,268.02 L567.87,270.68 L568.87,273.51 L569.87,276.50 L570.87,279.61 L571.88,282.77 L572.88,285.96 L573.88,289.10 L574.88,292.16 L575.89,295.07 L576.89,297.80 L577.89,300.46 L578.89,303.09 L579.90,305.69 L580.90,308.21 L581.90,310.64 L582.90,312.95 L583.90,315.11 L584.91,317.10 L585.91,318.89 L586.91,320.58 L587.91,322.23 L588.92,323.85 L589.92,325.43 L590.92,326.95 L591.92,328.40 L592.93,329.79 L593.93,331.09 L594.93,332.31 L595.93,333.43 L596.94,334.45 L597.94,335.36 L598.94,336.19 L599.94,336.98 L600.95,337.74 L601.95,338.46 L602.95,339.13 L603.95,339.74 L604.95,340.29 L605.96,340.77 L606.96,341.23 L607.96,341.68 L608.96,342.11 L609.97,342.49 L610.97,342.80 L611.97,343.03 L612.97,343.21 L613.98,343.36 L614.98,343.48 L615.98,343.56 L616.98,343.60 L617.99,343.61 L618.99,343.54 L619.99,343.33 L620.99,343.01 L622.00,342.62 L623.00,342.22 L624.00,341.63 L625.00,340.83 L626.00,339.89 L627.01,338.86 L628.01,337.80 L629.01,336.70 L630.01,335.42 L631.02,333.96 L632.02,332.31 L633.02,330.47 L634.02,328.43 L635.03,326.12 L636.03,323.15 L637.03,319.75 L638.03,316.23 L639.04,312.89 L640.04,309.90 L641.04,307.04 L642.04,304.03 L643.05,300.59 L644.05,296.19 L645.05,290.72 L646.05,284.90 L647.05,279.21 L648.06,273.35 L649.06,267.39 L650.06,261.42 L651.06,255.47 L652.07,249.47 L653.07,243.25 L654.07,236.01 L655.07,229.90 L656.08,226.49 L657.08,223.83 L658.08,221.84 L659.08,220.55 L660.09,219.84 L661.09,219.22 L662.09,218.71 L663.09,218.35 L664.10,218.18 L665.10,218.25 L666.10,218.60" fill="none" stroke="#E6AB02" stroke-width="2.6" stroke-linejoin="round" stroke-linecap="butt"/>
<rect x="45.5" y="6.5" width="291.5" height="353.8" fill="none" stroke="#333333" stroke-width="1.5"/>
<rect x="401" y="6.6" width="278" height="148.4" fill="none" stroke="#333333" stroke-width="1.5"/>
<rect x="401" y="211.5" width="278" height="148.10000000000002" fill="none" stroke="#333333" stroke-width="1.5"/>
<line x1="58.75" y1="360.3" x2="58.75" y2="364.2" stroke="#333333" stroke-width="1.5"/>
<line x1="125.06" y1="360.3" x2="125.06" y2="364.2" stroke="#333333" stroke-width="1.5"/>
<line x1="191.37" y1="360.3" x2="191.37" y2="364.2" stroke="#333333" stroke-width="1.5"/>
<line x1="257.68" y1="360.3" x2="257.68" y2="364.2" stroke="#333333" stroke-width="1.5"/>
<line x1="323.99" y1="360.3" x2="323.99" y2="364.2" stroke="#333333" stroke-width="1.5"/>
<line x1="41.6" y1="344.20" x2="45.5" y2="344.20" stroke="#333333" stroke-width="1.5"/>
<line x1="41.6" y1="279.87" x2="45.5" y2="279.87" stroke="#333333" stroke-width="1.5"/>
<line x1="41.6" y1="215.54" x2="45.5" y2="215.54" stroke="#333333" stroke-width="1.5"/>
<line x1="41.6" y1="151.21" x2="45.5" y2="151.21" stroke="#333333" stroke-width="1.5"/>
<line x1="41.6" y1="86.88" x2="45.5" y2="86.88" stroke="#333333" stroke-width="1.5"/>
<line x1="41.6" y1="22.55" x2="45.5" y2="22.55" stroke="#333333" stroke-width="1.5"/>
<line x1="441.72" y1="155" x2="441.72" y2="158.9" stroke="#333333" stroke-width="1.5"/>
<line x1="497.88" y1="155" x2="497.88" y2="158.9" stroke="#333333" stroke-width="1.5"/>
<line x1="554.04" y1="155" x2="554.04" y2="158.9" stroke="#333333" stroke-width="1.5"/>
<line x1="610.20" y1="155" x2="610.20" y2="158.9" stroke="#333333" stroke-width="1.5"/>
<line x1="666.36" y1="155" x2="666.36" y2="158.9" stroke="#333333" stroke-width="1.5"/>
<line x1="397.1" y1="149.00" x2="401" y2="149.00" stroke="#333333" stroke-width="1.5"/>
<line x1="397.1" y1="115.00" x2="401" y2="115.00" stroke="#333333" stroke-width="1.5"/>
<line x1="397.1" y1="81.00" x2="401" y2="81.00" stroke="#333333" stroke-width="1.5"/>
<line x1="397.1" y1="47.00" x2="401" y2="47.00" stroke="#333333" stroke-width="1.5"/>
<line x1="397.1" y1="13.00" x2="401" y2="13.00" stroke="#333333" stroke-width="1.5"/>
<line x1="441.72" y1="359.6" x2="441.72" y2="363.5" stroke="#333333" stroke-width="1.5"/>
<line x1="497.88" y1="359.6" x2="497.88" y2="363.5" stroke="#333333" stroke-width="1.5"/>
<line x1="554.04" y1="359.6" x2="554.04" y2="363.5" stroke="#333333" stroke-width="1.5"/>
<line x1="610.20" y1="359.6" x2="610.20" y2="363.5" stroke="#333333" stroke-width="1.5"/>
<line x1="666.36" y1="359.6" x2="666.36" y2="363.5" stroke="#333333" stroke-width="1.5"/>
<line x1="397.1" y1="353.40" x2="401" y2="353.40" stroke="#333333" stroke-width="1.5"/>
<line x1="397.1" y1="315.72" x2="401" y2="315.72" stroke="#333333" stroke-width="1.5"/>
<line x1="397.1" y1="278.05" x2="401" y2="278.05" stroke="#333333" stroke-width="1.5"/>
<line x1="397.1" y1="240.38" x2="401" y2="240.38" stroke="#333333" stroke-width="1.5"/>
<text x="58.75" y="375.8" text-anchor="middle" font-size="14.5" class="tk" fill="#444444">0</text>
<text x="125.06" y="375.8" text-anchor="middle" font-size="14.5" class="tk" fill="#444444">0.5</text>
<text x="191.37" y="375.8" text-anchor="middle" font-size="14.5" class="tk" fill="#444444">1</text>
<text x="257.68" y="375.8" text-anchor="middle" font-size="14.5" class="tk" fill="#444444">1.5</text>
<text x="323.99" y="375.8" text-anchor="middle" font-size="14.5" class="tk" fill="#444444">2</text>
<text x="40.6" y="349.30" text-anchor="end" font-size="14.5" class="tk" fill="#444444">0</text>
<text x="40.6" y="284.97" text-anchor="end" font-size="14.5" class="tk" fill="#444444">1</text>
<text x="40.6" y="220.64" text-anchor="end" font-size="14.5" class="tk" fill="#444444">2</text>
<text x="40.6" y="156.31" text-anchor="end" font-size="14.5" class="tk" fill="#444444">3</text>
<text x="40.6" y="91.98" text-anchor="end" font-size="14.5" class="tk" fill="#444444">4</text>
<text x="40.6" y="27.65" text-anchor="end" font-size="14.5" class="tk" fill="#444444">5</text>
<text x="441.72" y="380.60" text-anchor="middle" font-size="14.5" class="tk" fill="#444444">10<tspan font-size="10.5" dy="-7.4">-2</tspan></text>
<text x="441.72" y="176.00" text-anchor="middle" font-size="14.5" class="tk" fill="#444444">10<tspan font-size="10.5" dy="-7.4">-2</tspan></text>
<text x="497.88" y="380.60" text-anchor="middle" font-size="14.5" class="tk" fill="#444444">10<tspan font-size="10.5" dy="-7.4">0</tspan></text>
<text x="497.88" y="176.00" text-anchor="middle" font-size="14.5" class="tk" fill="#444444">10<tspan font-size="10.5" dy="-7.4">0</tspan></text>
<text x="554.04" y="380.60" text-anchor="middle" font-size="14.5" class="tk" fill="#444444">10<tspan font-size="10.5" dy="-7.4">2</tspan></text>
<text x="554.04" y="176.00" text-anchor="middle" font-size="14.5" class="tk" fill="#444444">10<tspan font-size="10.5" dy="-7.4">2</tspan></text>
<text x="610.20" y="380.60" text-anchor="middle" font-size="14.5" class="tk" fill="#444444">10<tspan font-size="10.5" dy="-7.4">4</tspan></text>
<text x="610.20" y="176.00" text-anchor="middle" font-size="14.5" class="tk" fill="#444444">10<tspan font-size="10.5" dy="-7.4">4</tspan></text>
<text x="666.36" y="380.60" text-anchor="middle" font-size="14.5" class="tk" fill="#444444">10<tspan font-size="10.5" dy="-7.4">6</tspan></text>
<text x="666.36" y="176.00" text-anchor="middle" font-size="14.5" class="tk" fill="#444444">10<tspan font-size="10.5" dy="-7.4">6</tspan></text>
<text x="395.30" y="155.60" text-anchor="end" font-size="14.5" class="tk" fill="#444444">10<tspan font-size="10.5" dy="-7.4">0</tspan></text>
<text x="395.30" y="121.60" text-anchor="end" font-size="14.5" class="tk" fill="#444444">10<tspan font-size="10.5" dy="-7.4">2</tspan></text>
<text x="395.30" y="87.60" text-anchor="end" font-size="14.5" class="tk" fill="#444444">10<tspan font-size="10.5" dy="-7.4">4</tspan></text>
<text x="395.30" y="53.60" text-anchor="end" font-size="14.5" class="tk" fill="#444444">10<tspan font-size="10.5" dy="-7.4">6</tspan></text>
<text x="395.30" y="19.60" text-anchor="end" font-size="14.5" class="tk" fill="#444444">10<tspan font-size="10.5" dy="-7.4">8</tspan></text>
<text x="396.2" y="358.50" text-anchor="end" font-size="14.5" class="tk" fill="#444444">0</text>
<text x="396.2" y="320.82" text-anchor="end" font-size="14.5" class="tk" fill="#444444">25</text>
<text x="396.2" y="283.15" text-anchor="end" font-size="14.5" class="tk" fill="#444444">50</text>
<text x="396.2" y="245.47" text-anchor="end" font-size="14.5" class="tk" fill="#444444">75</text>
<text x="191.8" y="396" text-anchor="middle" font-size="18.3" class="tt" fill="#000">Z' (M&#937;)</text>
<text x="539" y="195.4" text-anchor="middle" font-size="18.7" class="tt" fill="#000">Frecuency (Hz)</text>
<text x="539" y="399.6" text-anchor="middle" font-size="18.7" class="tt" fill="#000">Frecuency (Hz)</text>
<text transform="translate(20.6,183.3) rotate(-90)" text-anchor="middle" font-size="18.3" class="tt" fill="#000">Z" (M&#937;)</text>
<text transform="translate(362,80.8) rotate(-90)" text-anchor="middle" font-size="18.3" class="tt" fill="#000">|Z| (&#937;)</text>
<text transform="translate(364.5,285.5) rotate(-90)" text-anchor="middle" font-size="18.3" class="tt" fill="#000">Phase (&#176;)</text>
<text x="8" y="16.3" font-size="14" font-weight="bold" class="tt" fill="#000">a)</text>
<text x="350" y="16.4" font-size="14" font-weight="bold" class="tt" fill="#000">b)</text>
<text x="350" y="221.2" font-size="14" font-weight="bold" class="tt" fill="#000">c)</text>
<text x="78.0" y="431.4" font-size="18.6" class="tt" fill="#000">Immersion time (h)</text>
<line x1="244.80" y1="424.85" x2="259.00" y2="424.85" stroke="#1B9E77" stroke-width="6.2"/>
<text x="271.10" y="429.6" font-size="14.5" class="tl" fill="#000">000</text>
<line x1="307.30" y1="424.85" x2="321.50" y2="424.85" stroke="#D95F02" stroke-width="6.2"/>
<text x="333.60" y="429.6" font-size="14.5" class="tl" fill="#000">001</text>
<line x1="369.80" y1="424.85" x2="384.00" y2="424.85" stroke="#7570B3" stroke-width="6.2"/>
<text x="396.10" y="429.6" font-size="14.5" class="tl" fill="#000">024</text>
<line x1="432.30" y1="424.85" x2="446.50" y2="424.85" stroke="#E7298A" stroke-width="6.2"/>
<text x="458.60" y="429.6" font-size="14.5" class="tl" fill="#000">072</text>
<line x1="494.80" y1="424.85" x2="509.00" y2="424.85" stroke="#66A61E" stroke-width="6.2"/>
<text x="521.10" y="429.6" font-size="14.5" class="tl" fill="#000">120</text>
<line x1="557.30" y1="424.85" x2="571.50" y2="424.85" stroke="#E6AB02" stroke-width="6.2"/>
<text x="583.60" y="429.6" font-size="14.5" class="tl" fill="#000">168</text>
</g>
</svg>
</body></html>
